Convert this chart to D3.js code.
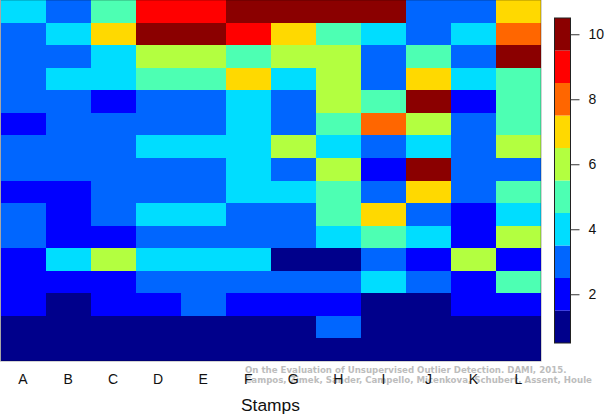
<!DOCTYPE html>
<html>
<head>
<meta charset="utf-8">
<script src="https://cdn.jsdelivr.net/npm/d3@7"></script>
<style>
  html, body { margin: 0; padding: 0; background: #fff; }
  svg { display: block; }
</style>
</head>
<body>
<div id="chart"></div>
<script>
const stamps = ["A", "B", "C", "D", "E", "F", "G", "H", "I", "J", "K", "L"];
const rowIds = d3.range(16);

// one row per line, top to bottom, columns A..L
const row01 = [4, 3, 5, 9, 9, 10, 10, 10, 10, 3, 3, 7];
const row02 = [3, 4, 7, 10, 10, 9, 7, 5, 4, 3, 4, 8];
const row03 = [3, 3, 4, 6, 6, 5, 6, 6, 3, 5, 3, 10];
const row04 = [3, 4, 4, 5, 5, 7, 4, 6, 3, 7, 4, 5];
const row05 = [3, 3, 2, 3, 3, 4, 3, 6, 5, 10, 2, 5];
const row06 = [2, 3, 3, 3, 3, 4, 3, 5, 8, 6, 3, 5];
const row07 = [3, 3, 3, 4, 4, 4, 6, 4, 3, 4, 3, 6];
const row08 = [3, 3, 3, 3, 3, 4, 3, 6, 2, 10, 3, 3];
const row09 = [2, 2, 3, 3, 3, 4, 4, 5, 3, 7, 3, 5];
const row10 = [3, 2, 3, 4, 4, 3, 3, 5, 7, 3, 2, 4];
const row11 = [3, 2, 2, 3, 3, 3, 3, 4, 5, 4, 2, 6];
const row12 = [2, 4, 6, 4, 4, 4, 1, 1, 3, 2, 6, 2];
const row13 = [2, 2, 2, 3, 3, 3, 3, 3, 4, 3, 2, 5];
const row14 = [2, 1, 2, 2, 3, 2, 2, 2, 1, 1, 2, 2];
const row15 = [1, 1, 1, 1, 1, 1, 1, 3, 1, 1, 1, 1];
const row16 = [1, 1, 1, 1, 1, 1, 1, 1, 1, 1, 1, 1];
const rows = [row01, row02, row03, row04, row05, row06, row07, row08,
              row09, row10, row11, row12, row13, row14, row15, row16];

const levels = d3.range(1, 11);
const levelColors = ["#00008b", "#0000ff", "#0066ff", "#00ddff", "#4dffb3",
                     "#b3ff40", "#ffd900", "#ff6600", "#ff0000", "#8b0000"];
const legendTicks = [2, 4, 6, 8, 10];
const credit = ["On the Evaluation of Unsupervised Outlier Detection. DAMI, 2015.",
                "Campos, Zimek, Sander, Campello, Micenkova, Schubert, Assent, Houle"];

const width = 605;
const height = 415;
const font = "'Liberation Sans', Arial, sans-serif";

const svg = d3.select("#chart").append("svg")
  .attr("width", width)
  .attr("height", height);

const x = d3.scaleBand().domain(stamps).range([0.5, 541]);
const y = d3.scaleBand().domain(rowIds).range([0, 361]);
const color = d3.scaleOrdinal().domain(levels).range(levelColors);

// heatmap cells
svg.append("g").selectAll("g")
  .data(rows)
  .join("g")
  .attr("transform", (d, i) => `translate(0,${y(i)})`)
  .selectAll("rect")
  .data(d => d)
  .join("rect")
  .attr("x", (d, i) => x(stamps[i]))
  .attr("width", x.bandwidth())
  .attr("height", y.bandwidth())
  .attr("fill", d => color(d))
  .attr("shape-rendering", "crispEdges");

// plot border
svg.append("rect")
  .attr("x", 0.5).attr("y", 0)
  .attr("width", 540.5).attr("height", 361)
  .attr("fill", "none")
  .attr("stroke", "#000").attr("stroke-opacity", 0.35);

// credit overlay, sits under the stamp labels
svg.append("g").selectAll("text")
  .data(credit)
  .join("text")
  .attr("x", 245)
  .attr("y", (d, i) => 373 + i * 10)
  .attr("font-family", "'DejaVu Sans', sans-serif")
  .attr("font-weight", "bold")
  .attr("font-size", 8.65)
  .attr("fill", "#bdbdbd")
  .text(d => d);

// stamp labels
svg.append("g").selectAll("text")
  .data(stamps)
  .join("text")
  .attr("x", d => x(d) + x.bandwidth() / 2)
  .attr("y", 384)
  .attr("text-anchor", "middle")
  .attr("font-family", font)
  .attr("font-size", 14)
  .attr("fill", "#111")
  .text(d => d);

svg.append("text")
  .attr("x", 270.5)
  .attr("y", 411)
  .attr("text-anchor", "middle")
  .attr("font-family", font)
  .attr("font-size", 17.4)
  .attr("fill", "#111")
  .text("Stamps");

// colour key
const keyScale = d3.scaleLinear().domain([0.5, 10.5]).range([343, 18]);
const key = svg.append("g");
key.selectAll("rect")
  .data(levels)
  .join("rect")
  .attr("x", 554.5)
  .attr("y", d => keyScale(d + 0.5))
  .attr("width", 16)
  .attr("height", d => keyScale(d - 0.5) - keyScale(d + 0.5))
  .attr("fill", d => color(d));
key.append("rect")
  .attr("x", 554.5).attr("y", 18)
  .attr("width", 16).attr("height", 325)
  .attr("fill", "none")
  .attr("stroke", "#222");

const keyAxis = d3.axisRight(keyScale)
  .tickValues(legendTicks)
  .tickSize(9)
  .tickPadding(9);
const keyAxisG = svg.append("g")
  .attr("transform", "translate(570.5,0)")
  .call(keyAxis);
keyAxisG.select(".domain").remove();
keyAxisG.selectAll("line").attr("stroke", "#333");
keyAxisG.selectAll("text")
  .attr("font-family", font)
  .attr("font-size", 14)
  .attr("fill", "#111");
</script>
</body>
</html>
